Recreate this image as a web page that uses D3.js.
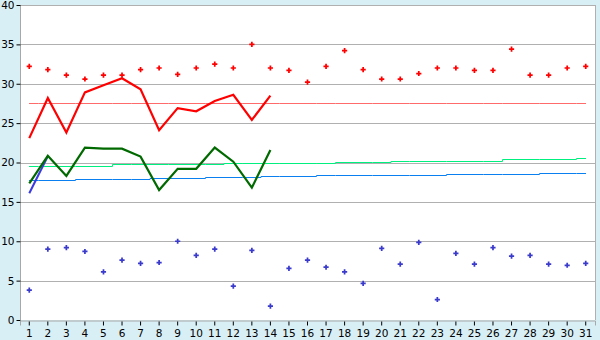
<!DOCTYPE html>
<html>
<head>
<meta charset="utf-8">
<script src="https://cdn.jsdelivr.net/npm/d3@7/dist/d3.min.js"></script>
<style>
  body { margin: 0; background: #d9eff6; }
  svg { display: block; }
</style>
</head>
<body>
<svg width="600" height="340"></svg>
<script>
// data
var days = d3.range(1, 32);
var yTicks = [0, 5, 10, 15, 20, 25, 30, 35, 40];

var maxDots = [32.2, 31.8, 31.1, 30.6, 31.1, 31.1, 31.8, 32.0, 31.2, 32.0,
               32.5, 32.0, 35.0, 32.0, 31.7, 30.2, 32.2, 34.2, 31.8, 30.6,
               30.6, 31.3, 32.0, 32.0, 31.7, 31.7, 34.4, 31.1, 31.1, 32.0, 32.2];
var minDots = [3.8, 9.0, 9.2, 8.7, 6.1, 7.6, 7.2, 7.3, 10.0, 8.2,
               9.0, 4.3, 8.85, 1.75, 6.55, 7.6, 6.7, 6.1, 4.65, 9.1,
               7.1, 9.85, 2.6, 8.45, 7.1, 9.2, 8.1, 8.2, 7.1, 6.95, 7.2];
var maxLine = [23.1, 28.2, 23.8, 28.9, 29.8, 30.7, 29.3, 24.1, 26.9, 26.5,
               27.8, 28.6, 25.4, 28.5];
var meanLine = [17.35, 20.85, 18.3, 21.9, 21.75, 21.75, 20.75, 16.5, 19.2, 19.2,
                21.9, 20.1, 16.8, 21.6];
var minLine = [16.1, 20.8];
var normalMax = [27.6, 27.6, 27.6, 27.6, 27.6, 27.6, 27.6, 27.6, 27.6, 27.6,
                 27.6, 27.6, 27.6, 27.6, 27.6, 27.6, 27.6, 27.6, 27.6, 27.6,
                 27.6, 27.6, 27.6, 27.6, 27.6, 27.6, 27.6, 27.6, 27.6, 27.6, 27.6];
var normalMean = [19.6, 19.6, 19.6, 19.6, 19.6, 19.75, 19.75, 19.75, 19.75, 19.75,
                  19.75, 19.9, 19.9, 19.9, 19.9, 19.9, 19.9, 20.1, 20.1, 20.1,
                  20.25, 20.25, 20.25, 20.25, 20.25, 20.25, 20.4, 20.4, 20.4, 20.4, 20.55];
var normalMin = [17.74, 17.74, 17.74, 17.87, 17.87, 17.87, 17.87, 18.0, 18.0, 18.0,
                 18.12, 18.12, 18.12, 18.25, 18.25, 18.25, 18.37, 18.37, 18.37, 18.37,
                 18.37, 18.37, 18.37, 18.5, 18.5, 18.5, 18.5, 18.5, 18.63, 18.63, 18.63];

var svg = d3.select("svg"),
    plotLeft = 20, plotRight = 595, plotTop = 5, plotBottom = 320;

var xScale = d3.scaleBand().domain(days).range([plotLeft, plotRight]).padding(0),
    yScale = d3.scaleLinear().domain([0, 40]).range([plotBottom, plotTop]);

function cx(i) { return xScale(days[i]) + xScale.bandwidth() / 2; }

// plot background
svg.append("rect")
  .attr("x", plotLeft).attr("y", plotTop)
  .attr("width", plotRight - plotLeft).attr("height", plotBottom - plotTop)
  .style("fill", "#ffffff");

// grid
svg.append("g")
  .selectAll("line")
  .data(yTicks.slice(1))
  .enter()
  .append("line")
  .attr("x1", plotLeft).attr("x2", plotRight)
  .attr("y1", function (d) { return Math.round(yScale(d)) + 0.5; })
  .attr("y2", function (d) { return Math.round(yScale(d)) + 0.5; })
  .style("stroke", "#b0b0b0")
  .style("shape-rendering", "crispEdges");

// right border
svg.append("line")
  .attr("x1", plotRight + 0.5).attr("x2", plotRight + 0.5)
  .attr("y1", plotTop).attr("y2", plotBottom)
  .style("stroke", "#b0b0b0");

// axes
var yAxis = svg.append("g")
  .attr("transform", "translate(" + (plotLeft + 0.5) + ",0)")
  .call(d3.axisLeft(yScale).tickValues(yTicks).tickSize(4).tickPadding(2));

var xAxis = svg.append("g")
  .attr("transform", "translate(0," + (plotBottom + 0.5) + ")")
  .call(d3.axisBottom(xScale).tickSize(5).tickPadding(4));

[yAxis, xAxis].forEach(function (a) {
  a.select(".domain").style("stroke", "#a8a8a8");
  a.selectAll(".tick line").style("stroke", "#000000");
  a.selectAll("text")
    .style("font-family", "DejaVu Sans, Verdana, sans-serif")
    .style("font-size", "10.5px")
    .style("fill", "#000000");
});
xAxis.selectAll(".tick line").attr("y1", 1);
yAxis.select(".domain").attr("d", "M0," + plotTop + "V" + plotBottom);

// lines
var step = d3.line()
  .x(function (d, i) { return Math.round(cx(i)); })
  .y(function (d) { return Math.round(yScale(d)) + 0.5; })
  .curve(d3.curveStep);

var line = d3.line()
  .x(function (d, i) { return cx(i); })
  .y(function (d) { return yScale(d); });

svg.append("path").datum(normalMax).attr("d", step)
  .style("fill", "none").style("stroke", "#ff6a6a").style("stroke-width", 1);
svg.append("path").datum(normalMean).attr("d", step)
  .style("fill", "none").style("stroke", "#00f080").style("stroke-width", 1);
svg.append("path").datum(normalMin).attr("d", step)
  .style("fill", "none").style("stroke", "#0a7ff0").style("stroke-width", 1);

svg.append("path").datum(minLine).attr("d", line)
  .style("fill", "none").style("stroke", "#3a3ae0").style("stroke-width", 2);
svg.append("path").datum(meanLine).attr("d", line)
  .style("fill", "none").style("stroke", "#006a00").style("stroke-width", 2.2);
svg.append("path").datum(maxLine).attr("d", line)
  .style("fill", "none").style("stroke", "#ff0000").style("stroke-width", 2.2);

// dots
var cross = d3.symbol().type(d3.symbolCross).size(15);

svg.append("g")
  .selectAll("path")
  .data(minDots)
  .enter()
  .append("path")
  .attr("d", cross)
  .attr("transform", function (d, i) { return "translate(" + cx(i) + "," + yScale(d) + ")"; })
  .style("fill", "#3a3acc");

svg.append("g")
  .selectAll("path")
  .data(maxDots)
  .enter()
  .append("path")
  .attr("d", cross)
  .attr("transform", function (d, i) { return "translate(" + cx(i) + "," + yScale(d) + ")"; })
  .style("fill", "#ff0000");
</script>
</body>
</html>
